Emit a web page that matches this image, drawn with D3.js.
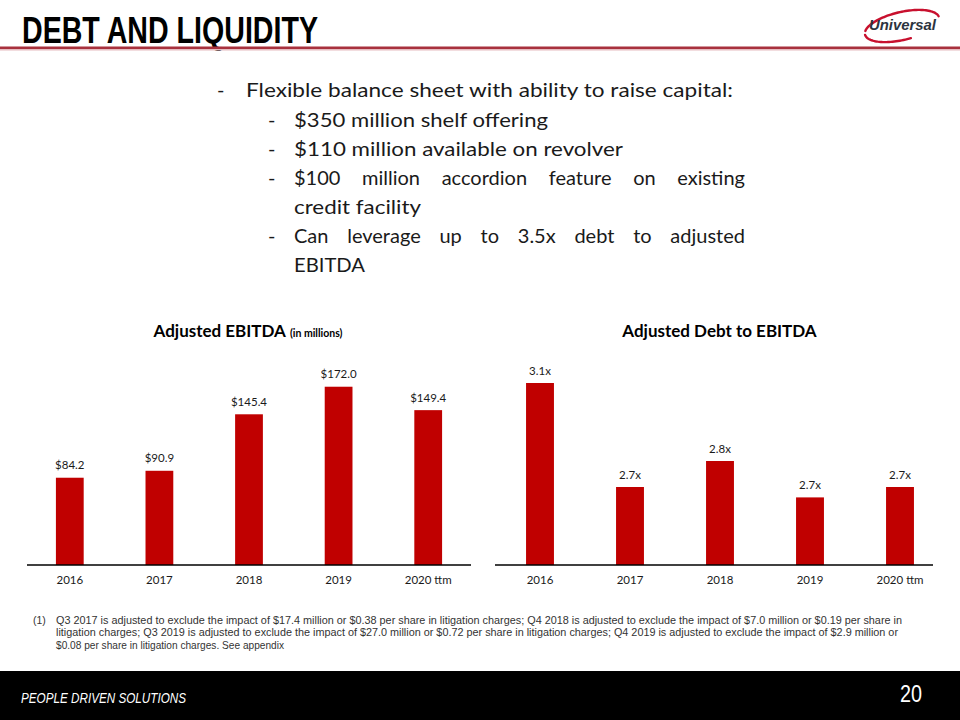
<!DOCTYPE html>
<html>
<head>
<meta charset="utf-8">
<script src="https://cdn.jsdelivr.net/npm/d3@7"></script>
<style>
  html, body { margin: 0; padding: 0; background: #ffffff; }
  svg { display: block; }
</style>
</head>
<body>
<svg id="chart" width="960" height="720"></svg>
<script>
// ---------- DATA ----------
const categories = ["2016", "2017", "2018", "2019", "2020 ttm"];
const ebitdaValues = [84.2, 90.9, 145.4, 172.0, 149.4];      // $ millions
const debtToEbitda = [3.1, 2.7, 2.8, 2.66, 2.7];            // ratio (x)

const slideTitle = "DEBT AND LIQUIDITY";
const bulletMain = "Flexible balance sheet with ability to raise capital:";
const bulletSubs = [
  { t: "$350 million shelf offering", j: false },
  { t: "$110 million available on revolver", j: false },
  { t: "$100 million accordion feature on existing", j: true },
  { t: "credit facility", j: false, cont: true },
  { t: "Can leverage up to 3.5x debt to adjusted", j: true },
  { t: "EBITDA", j: false, cont: true }
];
const footnoteLines = [
  "Q3 2017 is adjusted to exclude the impact of $17.4 million  or $0.38 per share in litigation charges; Q4 2018 is adjusted to exclude the impact of $7.0 million  or $0.19 per share in",
  "litigation charges; Q3 2019 is adjusted to exclude the impact of $27.0 million  or $0.72 per share in litigation charges; Q4 2019 is adjusted to exclude the impact of $2.9 million  or",
  "$0.08 per share in litigation charges. See appendix"
];

// ---------- SETUP ----------
const svg = d3.select("#chart");
const FONT = "Lato, 'Open Sans', sans-serif";
const ARIAL = "'Liberation Sans', Arial, sans-serif";
const RED = "#c00000";

// Header
svg.append("text")
  .attr("x", 22).attr("y", 42.5)
  .attr("font-family", ARIAL).attr("font-weight", "bold")
  .attr("font-size", 36.5).attr("fill", "#000")
  .attr("textLength", 296).attr("lengthAdjust", "spacingAndGlyphs")
  .text(slideTitle);

svg.append("rect").attr("x", 0).attr("y", 46.5).attr("width", 960).attr("height", 2.5).attr("fill", "#a8313d");
svg.append("rect").attr("x", 0).attr("y", 49).attr("width", 960).attr("height", 1.5).attr("fill", "#e6bcc0");

// Logo: swoosh drawn as two open arcs of a tilted ellipse, then the word mark
const logo = svg.append("g").attr("transform", "translate(902,26) rotate(-13)");
const ell = (a0, a1) => {
  const pts = d3.range(a0, a1 + 0.001, 0.05).map(a => [38 * Math.cos(a), 14 * Math.sin(a)]);
  return d3.line()(pts);
};
logo.append("path").attr("d", ell(-Math.PI * 0.92, -0.05))
  .attr("fill", "none").attr("stroke", "#c8102e").attr("stroke-width", 2.4).attr("stroke-linecap", "round");
logo.append("path").attr("d", ell(Math.PI * 0.45, Math.PI * 1.0))
  .attr("fill", "none").attr("stroke", "#c8102e").attr("stroke-width", 2.4).attr("stroke-linecap", "round");
svg.append("text")
  .attr("x", 869).attr("y", 30)
  .attr("font-family", ARIAL)
  .attr("font-weight", "bold").attr("font-style", "italic")
  .attr("font-size", 15).attr("fill", "#2c3440")
  .attr("textLength", 67).attr("lengthAdjust", "spacingAndGlyphs")
  .text("Universal");

// Bullets
const bulletG = svg.append("g").attr("font-family", FONT).attr("font-size", 20).attr("fill", "#1a1a1a");
bulletG.append("text").attr("x", 217).attr("y", 97).text("-");
bulletG.append("text").attr("x", 246).attr("y", 97)
  .attr("textLength", 487).attr("lengthAdjust", "spacingAndGlyphs").text(bulletMain);
const subWidths = [254, 329, 451, 127, 451, 71];
bulletSubs.forEach((b, i) => {
  const y = 126.5 + i * 29;
  if (!b.cont) bulletG.append("text").attr("x", 268).attr("y", y).text("-");
  const t = bulletG.append("text").attr("x", 294).attr("y", y).text(b.t);
  if (b.j) {
    // justified line: words at natural size, gaps spread to fill the width
    const words = b.t.split(" ");
    t.text(null);
    const tsp = words.map(w => t.append("tspan").attr("y", y).text(w).node());
    const wordWidths = tsp.map(n => n.getComputedTextLength());
    const gap = (subWidths[i] - d3.sum(wordWidths)) / (words.length - 1);
    let px = 294;
    tsp.forEach((n, k) => { n.setAttribute("x", px); px += wordWidths[k] + gap; });
  } else {
    t.attr("textLength", subWidths[i]).attr("lengthAdjust", "spacingAndGlyphs");
  }
});

// ---------- CHARTS ----------
function barChart(opts) {
  const g = svg.append("g");
  const x = d3.scaleBand().domain(categories).range(opts.xRange).paddingInner(0.69).paddingOuter(0.345);
  const y = d3.scaleLinear().domain(opts.yDomain).range(opts.yRange);
  const base = y(opts.yDomain[0]);

  g.selectAll("rect.bar").data(opts.values).join("rect")
    .attr("class", "bar")
    .attr("x", (d, i) => x(categories[i]))
    .attr("width", x.bandwidth())
    .attr("y", d => y(d))
    .attr("height", d => base - y(d))
    .attr("fill", RED);

  g.selectAll("text.val").data(opts.values).join("text")
    .attr("class", "val")
    .attr("x", (d, i) => x(categories[i]) + x.bandwidth() / 2)
    .attr("y", d => y(d) - 8.5)
    .attr("text-anchor", "middle")
    .attr("font-family", FONT).attr("font-size", 11.5).attr("fill", "#1a1a1a")
    .text(opts.fmt);

  const axis = g.append("g").attr("transform", `translate(0,${base})`)
    .call(d3.axisBottom(x).tickSize(0).tickPadding(11));
  axis.select(".domain").attr("d", `M${opts.axisExtent[0]},0H${opts.axisExtent[1]}`)
    .attr("stroke", "#000").attr("stroke-width", 1.3);
  axis.selectAll(".tick text")
    .attr("font-family", FONT).attr("font-size", 11.5).attr("fill", "#1a1a1a");

  const t = g.append("text")
    .attr("x", opts.titleX).attr("y", 336.5)
    .attr("text-anchor", "middle")
    .attr("font-family", FONT).attr("font-weight", "bold").attr("fill", "#000");
  t.append("tspan").attr("font-size", 17).text(opts.title);
  if (opts.subtitle) t.append("tspan").attr("font-size", 10.5).attr("dx", 4).text(opts.subtitle);
}

barChart({
  values: ebitdaValues,
  xRange: [25, 473],
  axisExtent: [27, 471],
  yDomain: [0, 200],
  yRange: [565, 357.7],
  fmt: d => "$" + d3.format(".1f")(d),
  title: "Adjusted EBITDA",
  subtitle: "(in millions)",
  titleX: 248
});

barChart({
  values: debtToEbitda,
  xRange: [495, 945],
  axisExtent: [495, 933],
  yDomain: [2.4, 3.2],
  yRange: [565, 357],
  fmt: d => d3.format(".1f")(d) + "x",
  title: "Adjusted Debt to EBITDA",
  titleX: 719.5
});

// Footnote
const fn = svg.append("g").attr("font-family", ARIAL).attr("font-size", 10.5).attr("fill", "#333");
fn.append("text").attr("x", 33).attr("y", 623.5).text("(1)");
const fnWidths = [846, 842, 228];
footnoteLines.forEach((l, i) => {
  fn.append("text").attr("x", 56).attr("y", 623.5 + i * 12.8)
    .attr("textLength", fnWidths[i]).attr("lengthAdjust", "spacingAndGlyphs")
    .text(l);
});

// Footer
svg.append("rect").attr("x", 0).attr("y", 671).attr("width", 960).attr("height", 49).attr("fill", "#000");
svg.append("text").attr("x", 21).attr("y", 702.5)
  .attr("font-family", ARIAL).attr("font-style", "italic").attr("font-size", 14.5).attr("fill", "#fff")
  .attr("textLength", 165).attr("lengthAdjust", "spacingAndGlyphs")
  .text("PEOPLE DRIVEN SOLUTIONS");
svg.append("text").attr("x", 900).attr("y", 702)
  .attr("font-family", ARIAL).attr("font-size", 24).attr("fill", "#fff")
  .attr("textLength", 22).attr("lengthAdjust", "spacingAndGlyphs")
  .text("20");
</script>
</body>
</html>
